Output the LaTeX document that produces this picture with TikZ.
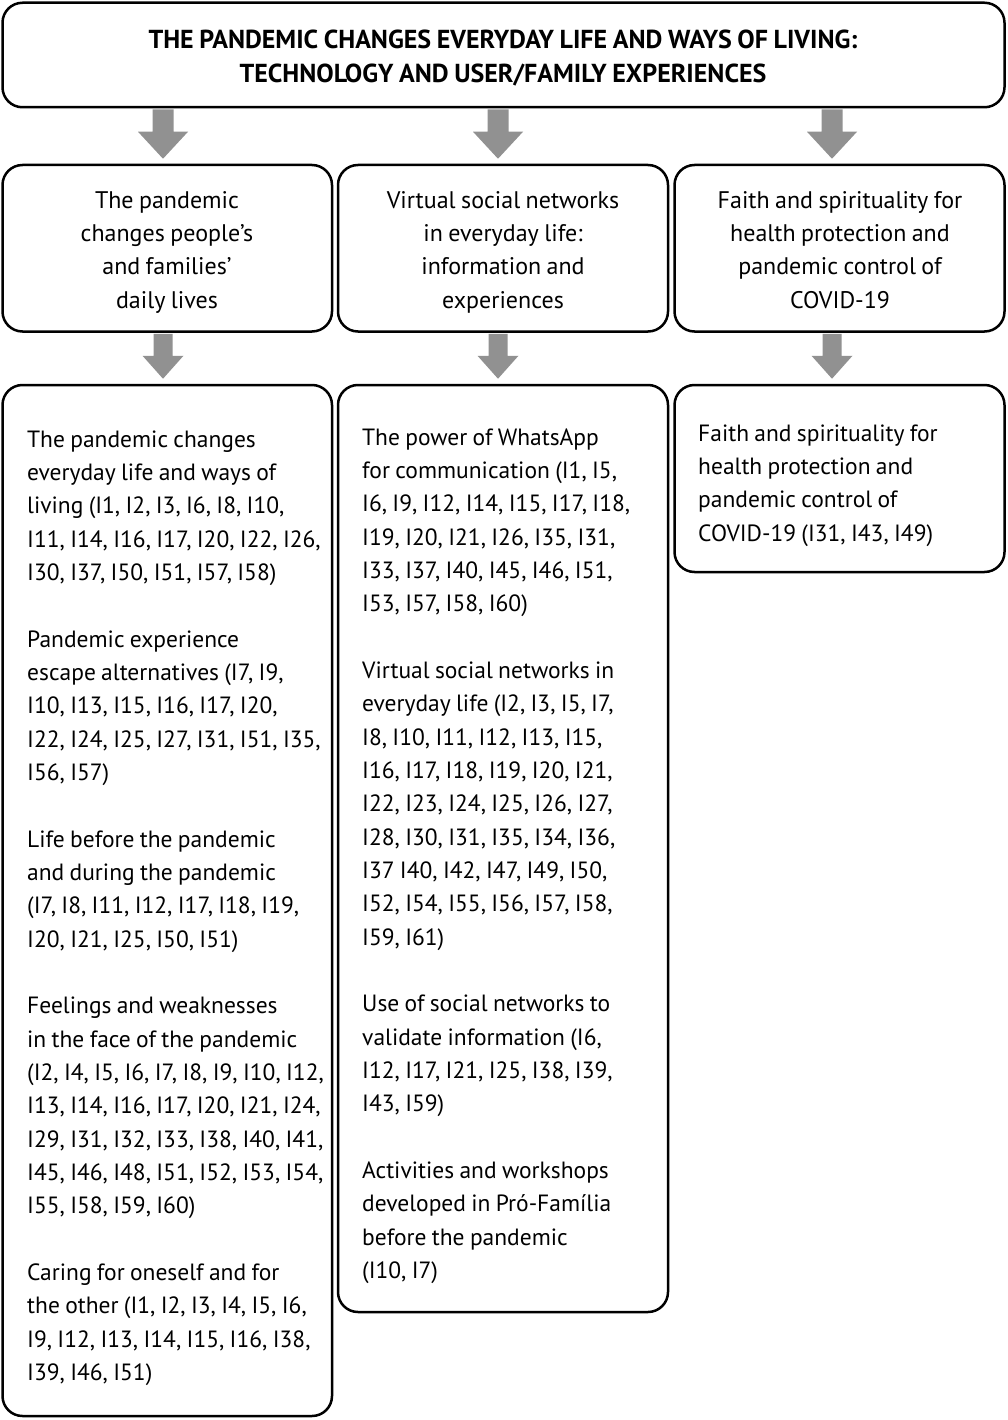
\documentclass[tikz,border=0pt]{standalone}
\usepackage{fontspec}
\setmainfont{PT Sans}[WordSpace=0.85]
\usetikzlibrary{calc}
\definecolor{arrowgray}{gray}{0.57}
\newcommand{\fatarr}[5]{%
  \fill[arrowgray] let \p1=(#1), \p2=(#2) in
    (\x1-#3,\y1-1pt) -- (\x1-#3,\y2+5pt+#5) -- (\x1-#4,\y2+5pt+#5) --
    (\x1,\y2+5pt) -- (\x1+#4,\y2+5pt+#5) -- (\x1+#3,\y2+5pt+#5) --
    (\x1+#3,\y1-1pt) -- cycle;}
\begin{document}
\begin{tikzpicture}[x=1pt,y=-1pt,
  box/.style={draw, line width=2.5pt, rounded corners=20pt, inner sep=0pt},
  bodytext/.style={anchor=north west, inner sep=0pt, align=left,
    font=\fontsize{23.5}{33.33}\selectfont},
  headtext/.style={anchor=north, inner sep=0pt, align=center,
    font=\fontsize{24}{33.33}\selectfont},
  titletext/.style={anchor=north, inner sep=0pt, align=center,
    font=\bfseries\fontsize{26}{34}\selectfont}]
\useasboundingbox (0,0) rectangle (1007,1420);
% boxes
\node[box, minimum width=1002pt, minimum height=104.5pt] (top) at (503.5,55) {};
\node[box, minimum width=329.5pt, minimum height=166.5pt] (b2l) at (167.25,248.25) {};
\node[box, minimum width=330pt, minimum height=166.5pt] (b2m) at (503,248.25) {};
\node[box, minimum width=330pt, minimum height=166.5pt] (b2r) at (839.5,248.25) {};
\node[box, minimum width=329.5pt, minimum height=1031pt] (b3l) at (167.25,900.5) {};
\node[box, minimum width=330pt, minimum height=927pt] (b3m) at (503,848.5) {};
\node[box, minimum width=330pt, minimum height=187pt] (b3r) at (839.5,478.5) {};
% arrow columns
\coordinate (a1) at (163,0);
\coordinate (a2) at (498,0);
\coordinate (a3) at (832,0);
\fatarr{top.south -| a1}{b2l.north -| a1}{10.5pt}{25pt}{27pt}
\fatarr{top.south -| a2}{b2m.north -| a2}{10.5pt}{25pt}{27pt}
\fatarr{top.south -| a3}{b2r.north -| a3}{10.5pt}{25pt}{27pt}
\fatarr{b2l.south -| a1}{b3l.north -| a1}{9.5pt}{20.5pt}{23pt}
\fatarr{b2m.south -| a2}{b3m.north -| a2}{9.5pt}{20.5pt}{23pt}
\fatarr{b2r.south -| a3}{b3r.north -| a3}{9.5pt}{20.5pt}{23pt}
% title
\node[titletext] (title) at (503,24.2) {\strut THE PANDEMIC CHANGES EVERYDAY LIFE AND WAYS OF LIVING:\\
TECHNOLOGY AND USER/FAMILY EXPERIENCES};
% row 2 texts
\node[headtext] (h2l) at (167,184.67) {\strut The pandemic\\ changes people’s\\ and families’\\ daily lives};
\node[headtext] (h2m) at (503,184.67) {\strut Virtual social networks\\ in everyday life:\\ information and\\ experiences};
\node[headtext] (h2r) at (840,184.67) {\strut Faith and spirituality for\\ health protection and\\ pandemic control of\\ COVID-19};
% row 3 texts
\node[bodytext] (t3l) at (27,423.67) {\strut The pandemic changes\\
everyday life and ways of\\
living (I1, I2, I3, I6, I8, I10,\\
I11, I14, I16, I17, I20, I22, I26,\\
I30, I37, I50, I51, I57, I58)\\[33.33pt]
Pandemic experience\\
escape alternatives (I7, I9,\\
I10, I13, I15, I16, I17, I20,\\
I22, I24, I25, I27, I31, I51, I35,\\
I56, I57)\\[33.33pt]
Life before the pandemic\\
and during the pandemic\\
(I7, I8, I11, I12, I17, I18, I19,\\
I20, I21, I25, I50, I51)\\[33.33pt]
Feelings and weaknesses\\
in the face of the pandemic\\
(I2, I4, I5, I6, I7, I8, I9, I10, I12,\\
I13, I14, I16, I17, I20, I21, I24,\\
I29, I31, I32, I33, I38, I40, I41,\\
I45, I46, I48, I51, I52, I53, I54,\\
I55, I58, I59, I60)\\[33.33pt]
Caring for oneself and for\\
the other (I1, I2, I3, I4, I5, I6,\\
I9, I12, I13, I14, I15, I16, I38,\\
I39, I46, I51)};
\node[bodytext] (t3m) at (362,421.67) {\strut The power of WhatsApp\\
for communication (I1, I5,\\
I6, I9, I12, I14, I15, I17, I18,\\
I19, I20, I21, I26, I35, I31,\\
I33, I37, I40, I45, I46, I51,\\
I53, I57, I58, I60)\\[33.33pt]
Virtual social networks in\\
everyday life (I2, I3, I5, I7,\\
I8, I10, I11, I12, I13, I15,\\
I16, I17, I18, I19, I20, I21,\\
I22, I23, I24, I25, I26, I27,\\
I28, I30, I31, I35, I34, I36,\\
I37 I40, I42, I47, I49, I50,\\
I52, I54, I55, I56, I57, I58,\\
I59, I61)\\[33.33pt]
Use of social networks to\\
validate information (I6,\\
I12, I17, I21, I25, I38, I39,\\
I43, I59)\\[33.33pt]
Activities and workshops\\
developed in Pró-Família\\
before the pandemic\\
(I10, I7)};
\node[bodytext] (t3r) at (698,417.67) {\strut Faith and spirituality for\\
health protection and\\
pandemic control of\\
COVID-19 (I31, I43, I49)};
\end{tikzpicture}
\end{document}
